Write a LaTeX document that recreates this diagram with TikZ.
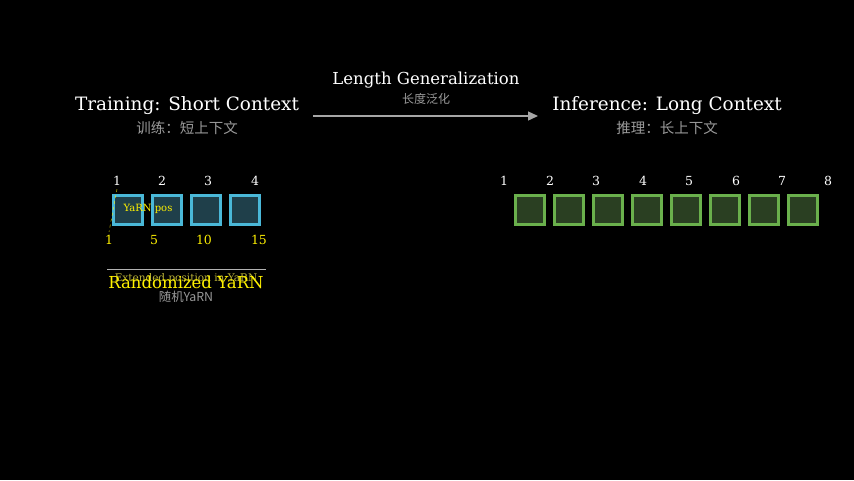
\documentclass[tikz,border=0pt]{standalone}
\usepackage{fontspec}
\setmainfont{DejaVu Serif}
\newfontfamily\cjk{Noto Sans CJK SC}
\usetikzlibrary{arrows.meta}
\definecolor{sbd}{HTML}{4AB8D8}
\definecolor{sbf}{HTML}{1F3F4A}
\definecolor{lbd}{HTML}{6AB04C}
\definecolor{lbf}{HTML}{2A3F22}
\begin{document}
\begin{tikzpicture}[x=1pt,y=-1pt,
  title/.style={text=white,font=\fontsize{18.4}{20}\selectfont},
  sub/.style={text=gray!80,font=\cjk\fontsize{14.5}{15}\selectfont},
  num/.style={text=white,font=\fontsize{12.5}{13}\selectfont},
  ynum/.style={text=yellow,font=\fontsize{12.5}{13}\selectfont},
  sbox/.style={draw=sbd,line width=2.2pt,fill=sbf,minimum size=29pt,inner sep=0pt},
  lbox/.style={draw=lbd,line width=2.2pt,fill=lbf,minimum size=29pt,inner sep=0pt}]
\fill[black] (0,0) rectangle (854,480);
\node[title] (tt) at (187,106) {Training: Short Context};
\node[sub] (ts) at (187,128) {训练：短上下文};
\node[title] (it) at (667,106) {Inference: Long Context};
\node[sub] (is) at (667,128) {推理：长上下文};
\coordinate (a1) at (313,116); \coordinate (a2) at (538,116);
\draw[gray!70,line width=1.4pt,-{Triangle[length=10pt,width=9pt]}] (a1) -- (a2);
\node[text=white,font=\fontsize{16.5}{18}\selectfont] (lg) at (426,80) {Length Generalization};
\node[sub,font=\cjk\fontsize{12}{13}\selectfont] (lgs) at (426,99) {长度泛化};
\foreach \x/\i in {128/1,167/2,206/3,245/4} \node[sbox] (s\i) at (\x,210) {};
\foreach \x/\i in {117/1,162/2,208/3,255/4} \node[num] (sn\i) at (\x,181) {\i};
\foreach \x/\i/\t in {109/1/1,154/2/5,204/3/10,259/4/15} \node[ynum] (y\i) at (\x,240) {\t};
\draw[yellow,dashed,thin] (sn1.south) -- (y1.north);
\node[text=yellow,font=\fontsize{10}{11}\selectfont] (yp) at (148,209) {YaRN pos};
\foreach \x/\i in {530/1,569/2,608/3,647/4,686/5,725/6,764/7,803/8} \node[lbox] (l\i) at (\x,210) {};
\foreach \x/\i in {504/1,550/2,596/3,643/4,689/5,736/6,782/7,828/8} \node[num] (ln\i) at (\x,181) {\i};
\coordinate (u1) at (107,269); \coordinate (u2) at (266,269);
\draw[gray!60,thin] (u1) -- (u2);
\node[text=yellow!70!black,font=\fontsize{10.5}{11}\selectfont] (ex) at (186,279) {Extended position in YaRN};
\node[text=yellow,font=\fontsize{16.5}{17}\selectfont] (rz) at (186,282) {Randomized YaRN};
\node[sub,font=\cjk\fontsize{12.4}{13}\selectfont] (rzs) at (186,297) {随机YaRN};
\end{tikzpicture}
\end{document}
